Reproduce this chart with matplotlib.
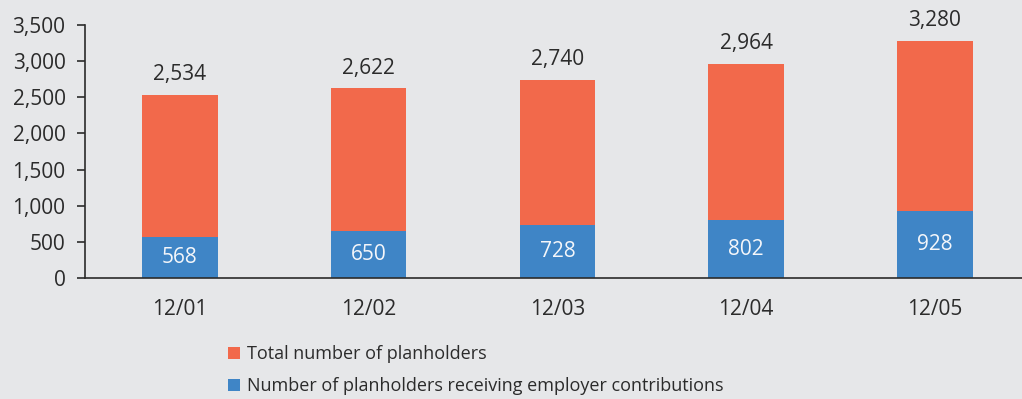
import matplotlib
matplotlib.use("Agg")
import matplotlib.pyplot as plt
from matplotlib.patches import Patch
from matplotlib.ticker import FuncFormatter

# Planholder counts by period
periods = ["12/01", "12/02", "12/03", "12/04", "12/05"]
total_planholders = [2534, 2622, 2740, 2964, 3280]
employer_contrib = [568, 650, 728, 802, 928]

series_labels = ["Total number of planholders",
                 "Number of planholders receiving employer contributions"]

BG = "#e6e7e9"
ORANGE = "#f2694b"
BLUE = "#3f85c6"
TEXT = "#2b2b2b"

plt.rcParams["font.family"] = ["Open Sans", "DejaVu Sans"]

fig = plt.figure(figsize=(10.22, 3.99), dpi=100, facecolor=BG)
ax = fig.add_axes([85 / 1022, 121 / 399, (1022 - 85) / 1022, 253 / 399])
ax.set_facecolor(BG)

x = list(range(len(periods)))
remainder = [t - e for t, e in zip(total_planholders, employer_contrib)]
width = 0.40

ax.bar(x, employer_contrib, width=width, color=BLUE, zorder=2)
ax.bar(x, remainder, width=width, bottom=employer_contrib, color=ORANGE, zorder=2)

for xi, tot, emp in zip(x, total_planholders, employer_contrib):
    ax.annotate(f"{tot:,}", (xi, tot), xytext=(0, 7), textcoords="offset points",
                ha="center", va="bottom", fontsize=15, color=TEXT)
    ax.text(xi, emp / 2, f"{emp:,}", ha="center", va="center",
            fontsize=15, color="#f4f6fa", zorder=3)

ax.set_xlim(-0.503, 4.461)
ax.set_ylim(0, 3500)
ax.set_yticks(range(0, 3501, 500))
ax.yaxis.set_major_formatter(FuncFormatter(lambda v, p: f"{int(v):,}"))
ax.set_xticks(x)
ax.set_xticklabels(periods)

for side in ("top", "right"):
    ax.spines[side].set_visible(False)
for side in ("left", "bottom"):
    ax.spines[side].set_color(TEXT)
    ax.spines[side].set_linewidth(1.2)

ax.tick_params(axis="y", direction="out", length=6, width=1.2, color=TEXT,
               labelsize=15, labelcolor=TEXT, pad=8)
ax.tick_params(axis="x", length=0, labelsize=15, labelcolor=TEXT, pad=15)

handles = [Patch(facecolor=ORANGE, edgecolor="none"),
           Patch(facecolor=BLUE, edgecolor="none")]
fig.legend(handles, series_labels, loc="upper left",
           bbox_to_anchor=(228 / 1022, 1 - 345 / 399), frameon=False,
           fontsize=13, labelcolor=TEXT, handlelength=0.67, handleheight=0.67,
           handletextpad=0.39, labelspacing=0.78, borderpad=0, borderaxespad=0)

fig.savefig("out.png", dpi=100, facecolor=BG)
